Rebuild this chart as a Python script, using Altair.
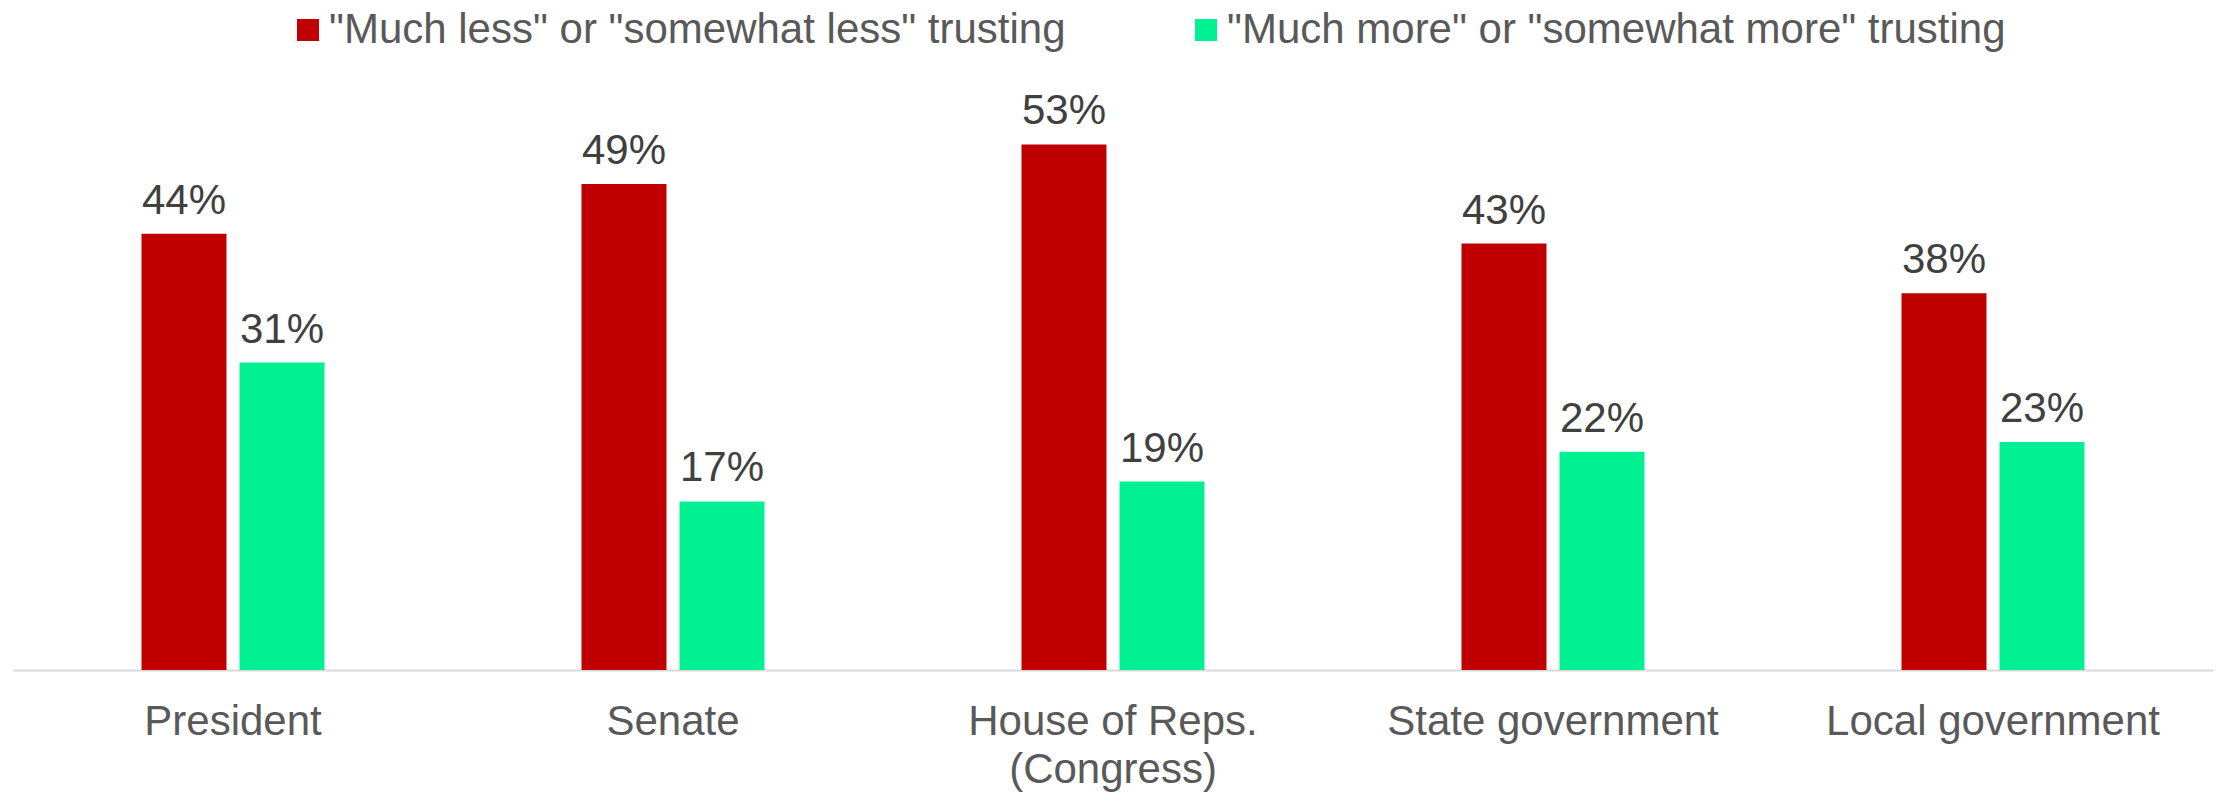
import altair as alt
import pandas as pd

categories = ["President", "Senate", "House of Reps.|(Congress)", "State government", "Local government"]
series = ['"Much less" or "somewhat less" trusting', '"Much more" or "somewhat more" trusting']
less_values = [44, 49, 53, 43, 38]
more_values = [31, 17, 19, 22, 23]
colors = ["#C00000", "#00F092"]

rows = []
for c, a, b in zip(categories, less_values, more_values):
    rows.append({"cat": c, "series": series[0], "value": a, "label": f"{a}%"})
    rows.append({"cat": c, "series": series[1], "value": b, "label": f"{b}%"})
df = pd.DataFrame(rows)

FONT = "Liberation Sans"

x = alt.X(
    "cat:N",
    sort=categories,
    scale=alt.Scale(paddingInner=0, paddingOuter=0),
    axis=alt.Axis(
        title=None,
        labelAngle=0,
        labelExpr="split(datum.label, '|')",
        labelFont=FONT,
        labelFontSize=42,
        labelColor="#595959",
        labelLimit=600,
        labelPadding=31,
        labelLineHeight=48,
        ticks=False,
        tickSize=0,
        domainColor="#D9D9D9",
        domainWidth=2,
        grid=False,
    ),
)
xoff = alt.XOffset(
    "series:N",
    sort=series,
    scale=alt.Scale(range=[128.5, 311.5], paddingInner=0.133, paddingOuter=0),
)
y = alt.Y("value:Q", scale=alt.Scale(domain=[0, 60]), axis=None)

bars = alt.Chart(df).mark_bar().encode(
    x=x,
    xOffset=xoff,
    y=y,
    color=alt.Color(
        "series:N",
        sort=series,
        scale=alt.Scale(domain=series, range=colors),
        legend=alt.Legend(
            title=None,
            orient="none",
            legendX=274,
            legendY=-66,
            direction="horizontal",
            symbolType="square",
            symbolSize=484,
            symbolStrokeWidth=0,
            labelFont=FONT,
            labelFontSize=42,
            labelColor="#595959",
            labelLimit=1000,
            labelOffset=0,
            columnPadding=119,
            padding=0,
        ),
    ),
)

text = alt.Chart(df).mark_text(
    dy=-20, baseline="alphabetic", fontSize=42, font=FONT, color="#404040"
).encode(
    x=x,
    xOffset=xoff,
    y=y,
    text="label:N",
)

chart = alt.layer(bars, text).properties(
    width=2200,
    height=595,
    padding={"left": 13, "top": 75, "right": 6, "bottom": 122},
    autosize="none",
).configure_view(stroke=None)

chart.save("out.html", embed_options={"renderer": "svg", "actions": False})
